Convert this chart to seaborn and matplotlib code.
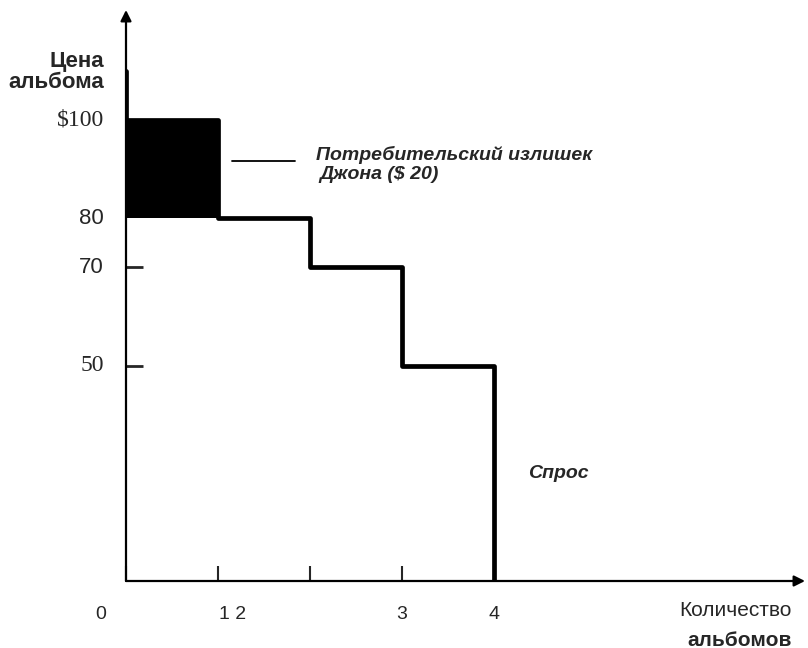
import numpy as np
import pandas as pd
import seaborn as sns
import matplotlib.pyplot as plt
from matplotlib.transforms import ScaledTranslation

# demand schedule: willingness to pay for each successive album
albums = [0, 1, 2, 3, 4]
wtp = [100, 80, 70, 50]
price_top = 110
price_floor = 6.2
surplus_price = 80   # price paid, John's surplus = 100 - 80 = $20

y_ticks = [100, 80, 70, 50]
y_ticklabels = ['$100', '80', '70', '50']
y_tickfonts = ['Liberation Serif', 'Liberation Sans', 'Liberation Sans', 'Liberation Serif']
x_ticks = [0, 1, 2, 3, 4]
x_ticklabels = ['0', '1 2', '', '3', '4']

sns.set_style('white')
plt.rcParams['font.family'] = ['Liberation Sans', 'DejaVu Sans']

# build the step curve from the schedule
xs, ys = [0], [price_top]
for i, p in enumerate(wtp):
    xs += [albums[i], albums[i + 1]]
    ys += [p, p]
xs.append(albums[-1])
ys.append(price_floor)
curve = pd.DataFrame({'q': xs, 'p': ys})

fig = plt.figure(figsize=(8.08, 6.48), dpi=100)
ax = fig.add_axes([126 / 808, 67 / 648, 679 / 808, 571 / 648])
ax.set_xlim(0, 7.38)
ax.set_ylim(price_floor, 122.4)

ax.fill_between([albums[0], albums[1]], surplus_price, wtp[0], color='black', lw=0, zorder=4)
sns.lineplot(data=curve, x='q', y='p', estimator=None, sort=False, color='black',
             lw=3.4, ax=ax, zorder=3)
ax.set_xlabel('')
ax.set_ylabel('')

for s in ax.spines.values():
    s.set_visible(False)

# axes with arrows
arrow = dict(arrowstyle='-|>', lw=1.6, color='black', mutation_scale=16, shrinkA=0, shrinkB=0)
ax.annotate('', xy=(0, 1), xytext=(0, 0), xycoords='axes fraction', arrowprops=arrow)
ax.annotate('', xy=(1, 0), xytext=(0, 0), xycoords='axes fraction', arrowprops=arrow)

# only the ticks not hidden by the surplus box
ax.set_yticks([v for v in y_ticks if v < surplus_price])
ax.tick_params(axis='y', direction='in', length=12, width=2, left=True, labelleft=False)
off = ScaledTranslation(-22 / 100, 0, fig.dpi_scale_trans)
for v, lab, fam in zip(y_ticks, y_ticklabels, y_tickfonts):
    size = 17 if 'Serif' in fam else 16
    ax.text(0, v, lab, transform=ax.get_yaxis_transform() + off, ha='right', va='center',
            fontsize=size, family=[fam, 'DejaVu Sans'])

ax.set_xticks(x_ticks, x_ticklabels)
ax.tick_params(axis='x', direction='in', length=11, width=1.5, pad=18, labelsize=14, bottom=True)
xl = ax.get_xticklabels()
xl[0].set_transform(xl[0].get_transform() + ScaledTranslation(-25 / 100, 0, fig.dpi_scale_trans))
xl[1].set_transform(xl[1].get_transform() + ScaledTranslation(15 / 100, 0, fig.dpi_scale_trans))

# annotations
ax.plot([1.15, 1.84], [91.7, 91.7], color='black', lw=1.3)
ax.text(2.06, 92.9, 'Потребительский излишек', fontsize=14, fontweight='bold',
        fontstyle='italic', va='center', ha='left')
ax.text(2.1, 89.0, 'Джона ($ 20)', fontsize=14, fontweight='bold',
        fontstyle='italic', va='center', ha='left')
ax.text(4.37, 28, 'Спрос', fontsize=14, fontweight='bold', fontstyle='italic',
        va='center', ha='left')

fig.text(104 / 808, 1 - 72 / 648, 'Цена\nальбома', fontsize=16, fontweight='bold',
         ha='right', va='center', multialignment='right', linespacing=1.0)
fig.text(792 / 808, 1 - 611 / 648, 'Количество', fontsize=15, ha='right', va='center')
fig.text(792 / 808, 1 - 640 / 648, 'альбомов', fontsize=15, fontweight='bold',
         ha='right', va='center')

fig.savefig('out.png', dpi=100)
